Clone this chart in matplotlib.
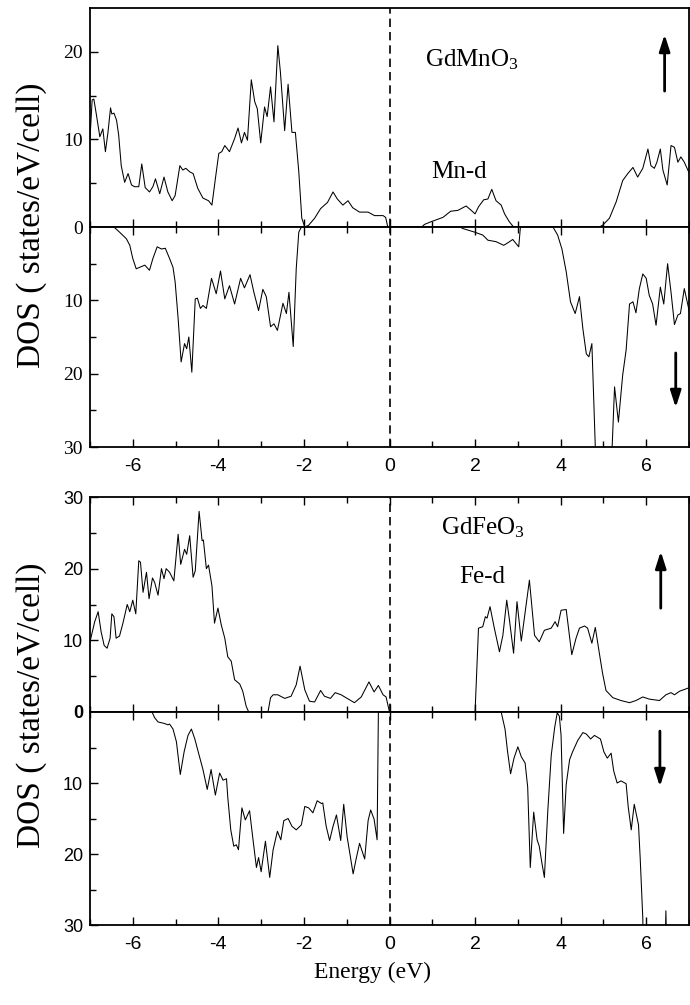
import matplotlib.pyplot as plt

plt.rcParams['mathtext.fontset'] = 'custom'
plt.rcParams['mathtext.rm'] = 'Liberation Serif'
plt.rcParams['mathtext.it'] = 'Liberation Serif:italic'
plt.rcParams['axes.unicode_minus'] = False

SERIF = 'Liberation Serif'
SANS = 'Liberation Sans'

# GdMnO3, Mn-d, spin up
mn_up_e = [-7.00, -6.95, -6.91, -6.85, -6.77, -6.70, -6.64, -6.58, -6.52, -6.49,
           -6.44, -6.38, -6.33, -6.27, -6.19, -6.11, -6.03, -5.96, -5.86, -5.79,
           -5.71, -5.61, -5.53, -5.47, -5.37, -5.27, -5.18, -5.08, -5.01, -4.90,
           -4.83, -4.76, -4.67, -4.59, -4.48, -4.36, -4.23, -4.15, -4.07, -3.99,
           -3.92, -3.85, -3.74, -3.62, -3.54, -3.46, -3.39, -3.32, -3.23, -3.15,
           -3.09, -3.01, -2.92, -2.86, -2.78, -2.70, -2.61, -2.55, -2.45, -2.37,
           -2.28, -2.20, -2.12, -2.05, -1.98, -1.89, -1.75, -1.61, -1.45, -1.32,
           -1.22, -1.09, -0.97, -0.86, -0.70, -0.50, -0.35, -0.15, -0.09, -0.04,
           0.75, 0.82, 0.97, 1.25, 1.43, 1.60, 1.79, 1.91, 2.00, 2.08,
           2.20, 2.30, 2.39, 2.49, 2.61, 2.69, 2.80, 2.90, 4.90, 4.98, 5.14,
           5.30, 5.45, 5.57, 5.69, 5.80, 5.92, 6.04, 6.11, 6.19, 6.25,
           6.33, 6.39, 6.49, 6.58, 6.66, 6.74, 6.81, 6.89, 7.01]
mn_up_dos = [10.1, 14.5, 14.6, 12.8, 10.3, 11.2, 8.6, 10.8, 13.6, 12.9,
             13.0, 12.2, 10.5, 7.0, 5.1, 6.1, 4.8, 4.6, 4.6, 7.2,
             4.5, 4.0, 4.6, 5.5, 3.8, 5.7, 4.0, 3.0, 3.6, 7.0,
             6.5, 6.7, 6.3, 6.1, 4.4, 3.3, 3.0, 2.5, 5.5, 8.4,
             8.6, 9.3, 8.6, 10.1, 11.3, 9.6, 10.8, 9.9, 16.8, 14.3,
             13.5, 9.6, 13.7, 12.6, 16.0, 12.0, 20.7, 17.7, 11.0, 16.3,
             10.8, 10.8, 6.3, 1.0, 0, 0.2, 1.0, 2.1, 2.8, 4.0,
             3.2, 2.5, 3.0, 2.2, 1.7, 1.7, 1.3, 1.3, 1.1, 0,
             0, 0.3, 0.6, 1.1, 1.8, 1.9, 2.4, 1.9, 1.5, 2.3,
             3.1, 3.2, 4.3, 3.0, 2.5, 1.5, 0.6, 0, 0, 0.2, 1.0,
             2.9, 5.3, 6.1, 6.8, 5.7, 6.7, 8.9, 7.0, 6.7, 7.4,
             8.9, 6.5, 4.8, 9.3, 9.1, 7.4, 8.0, 7.4, 6.1]

# GdMnO3, Mn-d, spin down (values > 30 run off the axis)
mn_dn_e = [-7.00, -6.44, -6.31, -6.15, -6.07, -6.00, -5.92, -5.84, -5.72, -5.61,
           -5.53, -5.43, -5.33, -5.24, -5.14, -5.06, -5.01, -4.94, -4.87, -4.79,
           -4.74, -4.69, -4.62, -4.54, -4.49, -4.42, -4.36, -4.28, -4.16, -4.05,
           -3.95, -3.85, -3.74, -3.62, -3.48, -3.39, -3.26, -3.17, -3.06, -2.96,
           -2.88, -2.78, -2.70, -2.62, -2.49, -2.41, -2.35, -2.25, -2.18, -2.12,
           -2.06, 1.65, 1.71, 1.99, 2.18, 2.30, 2.49, 2.67, 2.78, 2.88,
           3.02, 3.06, 3.82, 3.93, 4.03, 4.13, 4.23, 4.34, 4.44, 4.52,
           4.60, 4.66, 4.73, 4.81, 4.85, 5.15, 5.19, 5.26, 5.35, 5.45,
           5.53, 5.61, 5.69, 5.76, 5.84, 5.92, 6.00, 6.07, 6.15, 6.23,
           6.33, 6.41, 6.50, 6.58, 6.66, 6.74, 6.80, 6.89, 7.01]
mn_dn_dos = [0, 0, 0.7, 1.6, 2.5, 4.3, 5.7, 5.5, 5.2, 5.9,
             4.3, 2.7, 3.0, 2.9, 4.3, 5.5, 7.5, 12.5, 18.4, 15.9,
             16.6, 15.0, 19.8, 9.8, 9.7, 11.1, 10.7, 11.1, 7.0, 9.1,
             6.0, 9.8, 8.0, 10.5, 7.0, 8.3, 6.5, 8.9, 11.4, 8.5,
             9.5, 13.6, 13.2, 14.1, 10.4, 11.8, 8.9, 16.3, 5.7, 0.7,
             0, 0, 0.2, 0.7, 1.1, 1.8, 2.0, 2.5, 2.1, 1.7,
             2.7, 0, 0, 1.1, 3.0, 6.1, 10.2, 11.8, 9.5, 13.9,
             17.3, 17.7, 15.9, 30, 40, 40, 32, 21.8, 26.6, 20.2,
             16.8, 10.5, 10.2, 11.7, 8.4, 6.4, 7.0, 9.3, 10.5, 13.4,
             8.2, 10.5, 5.0, 8.9, 13.3, 12.0, 11.8, 8.4, 11.6]

# GdFeO3, Fe-d, spin up
fe_up_e = [-7.00, -6.89, -6.81, -6.74, -6.67, -6.60, -6.53, -6.49, -6.44, -6.39,
           -6.31, -6.23, -6.13, -6.07, -6.00, -5.93, -5.86, -5.82, -5.76, -5.68,
           -5.62, -5.54, -5.49, -5.41, -5.33, -5.27, -5.22, -5.14, -5.04, -4.94,
           -4.88, -4.79, -4.74, -4.67, -4.59, -4.54, -4.45, -4.38, -4.35, -4.28,
           -4.23, -4.15, -4.09, -4.01, -3.93, -3.85, -3.78, -3.70, -3.62, -3.50,
           -3.43, -3.35, -3.29, -2.84, -2.78, -2.72, -2.61, -2.45, -2.30, -2.18,
           -2.09, -1.98, -1.87, -1.75, -1.61, -1.52, -1.38, -1.27, -1.13, -0.99,
           -0.82, -0.66, -0.48, -0.36, -0.26, -0.15, -0.08, 0.00, 2.00, 2.08,
           2.18, 2.24, 2.28, 2.35, 2.45, 2.57, 2.65, 2.74, 2.80, 2.90,
           2.98, 3.08, 3.15, 3.27, 3.39, 3.50, 3.62, 3.78, 3.87, 3.93,
           4.01, 4.13, 4.26, 4.36, 4.44, 4.56, 4.63, 4.73, 4.81, 4.91,
           4.98, 5.06, 5.22, 5.41, 5.61, 5.76, 5.92, 6.07, 6.31, 6.46,
           6.58, 6.66, 6.78, 7.01]
fe_up_dos = [9.8, 12.6, 14.0, 11.2, 9.3, 8.9, 10.3, 13.7, 13.3, 10.3,
             10.6, 12.4, 15.0, 14.0, 15.6, 13.7, 21.1, 20.9, 16.7, 19.5,
             15.8, 18.7, 18.1, 16.3, 20.0, 18.6, 20.0, 19.5, 18.3, 24.8,
             20.6, 22.7, 22.0, 24.6, 18.8, 19.7, 28.0, 23.9, 24.0, 20.0,
             20.5, 17.6, 12.4, 14.5, 12.1, 10.3, 7.7, 7.1, 4.5, 3.9,
             2.9, 0.8, 0, 0, 2.0, 2.4, 2.4, 1.9, 2.2, 3.8,
             6.4, 3.1, 1.5, 1.4, 3.0, 2.2, 1.9, 2.7, 2.4, 1.9,
             1.3, 2.1, 4.2, 2.8, 3.7, 2.4, 2.1, 0, 0, 11.7,
             11.9, 13.3, 13.1, 14.7, 11.7, 8.4, 10.7, 15.6, 13.0, 8.2,
             15.4, 9.9, 13.0, 18.4, 10.7, 9.8, 11.4, 11.7, 12.6, 11.9,
             14.2, 14.3, 8.0, 10.3, 11.7, 12.0, 11.7, 9.6, 11.8, 8.0,
             5.4, 3.0, 2.0, 1.6, 1.3, 1.6, 2.1, 1.8, 1.6, 2.4,
             2.7, 2.4, 2.9, 3.4]

# GdFeO3, Fe-d, spin down
fe_dn_e = [-7.00, -5.55, -5.49, -5.41, -5.27, -5.18, -5.14, -5.06, -4.98, -4.89,
           -4.80, -4.71, -4.63, -4.55, -4.44, -4.36, -4.26, -4.17, -4.07, -3.97,
           -3.89, -3.81, -3.78, -3.71, -3.64, -3.58, -3.53, -3.45, -3.37, -3.27,
           -3.19, -3.11, -3.06, -3.00, -2.90, -2.80, -2.72, -2.62, -2.54, -2.47,
           -2.37, -2.28, -2.18, -2.06, -1.98, -1.89, -1.79, -1.69, -1.59, -1.56,
           -1.48, -1.40, -1.32, -1.24, -1.14, -1.07, -0.99, -0.93, -0.85, -0.78,
           -0.70, -0.58, -0.50, -0.44, -0.36, -0.29, -0.26, 2.61, 2.70, 2.76,
           2.83, 2.91, 3.00, 3.08, 3.17, 3.23, 3.29, 3.37, 3.45, 3.50,
           3.56, 3.62, 3.70, 3.78, 3.86, 3.92, 3.97, 4.01, 4.07, 4.13,
           4.21, 4.28, 4.40, 4.52, 4.60, 4.70, 4.79, 4.93, 5.01, 5.09,
           5.18, 5.24, 5.32, 5.41, 5.53, 5.58, 5.65, 5.72, 5.82, 5.86,
           5.92, 5.95, 6.42, 6.46, 6.50, 7.00]
fe_dn_dos = [0, 0, 0.8, 1.4, 1.6, 1.8, 1.7, 2.4, 4.2, 8.8,
             5.6, 3.3, 2.4, 3.8, 6.3, 8.1, 10.9, 8.1, 11.7, 8.6,
             9.6, 9.4, 12.0, 16.6, 18.9, 18.7, 19.4, 13.5, 15.2, 13.9,
             18.0, 21.9, 20.5, 22.5, 18.2, 23.3, 19.4, 16.8, 18.0, 15.3,
             15.0, 16.1, 16.6, 15.9, 13.3, 13.5, 14.2, 12.5, 12.9, 12.8,
             16.1, 18.1, 16.1, 14.5, 18.1, 13.0, 17.6, 19.8, 22.8, 20.7,
             18.5, 20.7, 15.3, 13.8, 15.1, 18.0, 0, 0, 2.4, 5.6,
             8.7, 6.5, 4.9, 6.3, 7.2, 10.6, 21.9, 14.1, 18.0, 18.9,
             21.2, 23.3, 13.9, 6.1, 2.2, 0.1, 0.6, 3.3, 17.1, 10.2,
             6.7, 5.6, 4.0, 2.9, 3.1, 3.8, 3.3, 3.8, 5.6, 6.5,
             5.8, 8.3, 10.0, 9.7, 10.1, 13.4, 16.6, 13.0, 15.9, 20.7,
             29, 40, 40, 28, 40, 40]

x_major = [-6, -4, -2, 0, 2, 4, 6]
x_minor = [-7, -5, -3, -1, 1, 3, 5, 7]

W, H = 690, 1005
fig = plt.figure(figsize=(W / 100, H / 100), dpi=100)


def box(top, bottom):
    return [90 / W, 1 - bottom / H, 599 / W, (bottom - top) / H]


def style(ax, top_ticks, labels_x, font, fsize):
    ax.set_xlim(-7, 7)
    ax.set_xticks(x_major)
    ax.set_xticks(x_minor, minor=True)
    ax.tick_params(which='both', direction='in', top=top_ticks, bottom=True,
                   right=False, left=True, labelbottom=labels_x, width=1.0)
    ax.tick_params(which='major', length=6)
    ax.tick_params(which='minor', length=4)
    ax.tick_params(axis='x', pad=8, labelsize=14)
    ax.tick_params(axis='y', pad=5, labelsize=fsize)
    for lab in ax.get_xticklabels():
        lab.set_family(SANS)
    for lab in ax.get_yticklabels():
        lab.set_family(font)
    for s in ax.spines.values():
        s.set_linewidth(1.3)
    ax.axvline(0, color='k', lw=1.2, ls=(0, (5, 3)))


ARROW = dict(arrowstyle='-|>,head_length=1.0,head_width=0.32',
             lw=2, color='k', mutation_scale=10)

# ---- top panel: GdMnO3 ----
ax1 = fig.add_axes(box(8, 227))
ax1.plot(mn_up_e, mn_up_dos, color='k', lw=0.75)
ax1.set_ylim(0, 25)
ax1.set_yticks([0, 10, 20])
ax1.set_yticks([5, 15], minor=True)
style(ax1, False, False, SERIF, 14)

ax2 = fig.add_axes(box(227, 447))
ax2.plot(mn_dn_e, mn_dn_dos, color='k', lw=0.75)
ax2.set_ylim(30, 0)
ax2.set_yticks([10, 20, 30])
ax2.set_yticks([5, 15, 25], minor=True)
style(ax2, True, True, SERIF, 14)

ax1.text(0.83, 18.3, r'GdMnO$_3$', family=SERIF, fontsize=18, va='baseline')
ax1.text(0.97, 5.6, 'Mn-d', family=SERIF, fontsize=18, va='baseline')
ax1.annotate('', xy=(6.43, 22.3), xytext=(6.43, 15.2), arrowprops=ARROW)
ax2.annotate('', xy=(6.69, 25.0), xytext=(6.69, 16.8), arrowprops=ARROW)

# ---- bottom panel: GdFeO3 ----
ax3 = fig.add_axes(box(497, 712))
ax3.plot(fe_up_e, fe_up_dos, color='k', lw=0.75)
ax3.set_ylim(0, 30)
ax3.set_yticks([0, 10, 20, 30])
ax3.set_yticks([5, 15, 25], minor=True)
style(ax3, True, False, SANS, 13)
ax3.get_yticklabels()[0].set_fontweight('bold')

ax4 = fig.add_axes(box(712, 925))
ax4.plot(fe_dn_e, fe_dn_dos, color='k', lw=0.75)
ax4.set_ylim(30, 0)
ax4.set_yticks([10, 20, 30])
ax4.set_yticks([5, 15, 25], minor=True)
style(ax4, True, True, SANS, 13)

ax3.text(1.20, 24.8, r'GdFeO$_3$', family=SERIF, fontsize=18, va='baseline')
ax3.text(1.64, 18.0, 'Fe-d', family=SERIF, fontsize=18, va='baseline')
ax3.annotate('', xy=(6.34, 22.8), xytext=(6.34, 14.1), arrowprops=ARROW)
ax4.annotate('', xy=(6.32, 10.9), xytext=(6.32, 2.3), arrowprops=ARROW)

# axis titles
fig.text(32 / W, 1 - 225 / H, 'DOS ( states/eV/cell)', rotation=90,
         ha='center', va='center', family=SERIF, fontsize=24)
fig.text(32 / W, 1 - 705 / H, 'DOS ( states/eV/cell)', rotation=90,
         ha='center', va='center', family=SERIF, fontsize=24)
fig.text(372 / W, 1 - 972 / H, 'Energy (eV)', ha='center', va='center',
         family=SERIF, fontsize=17)

fig.savefig('out.png', dpi=100)
